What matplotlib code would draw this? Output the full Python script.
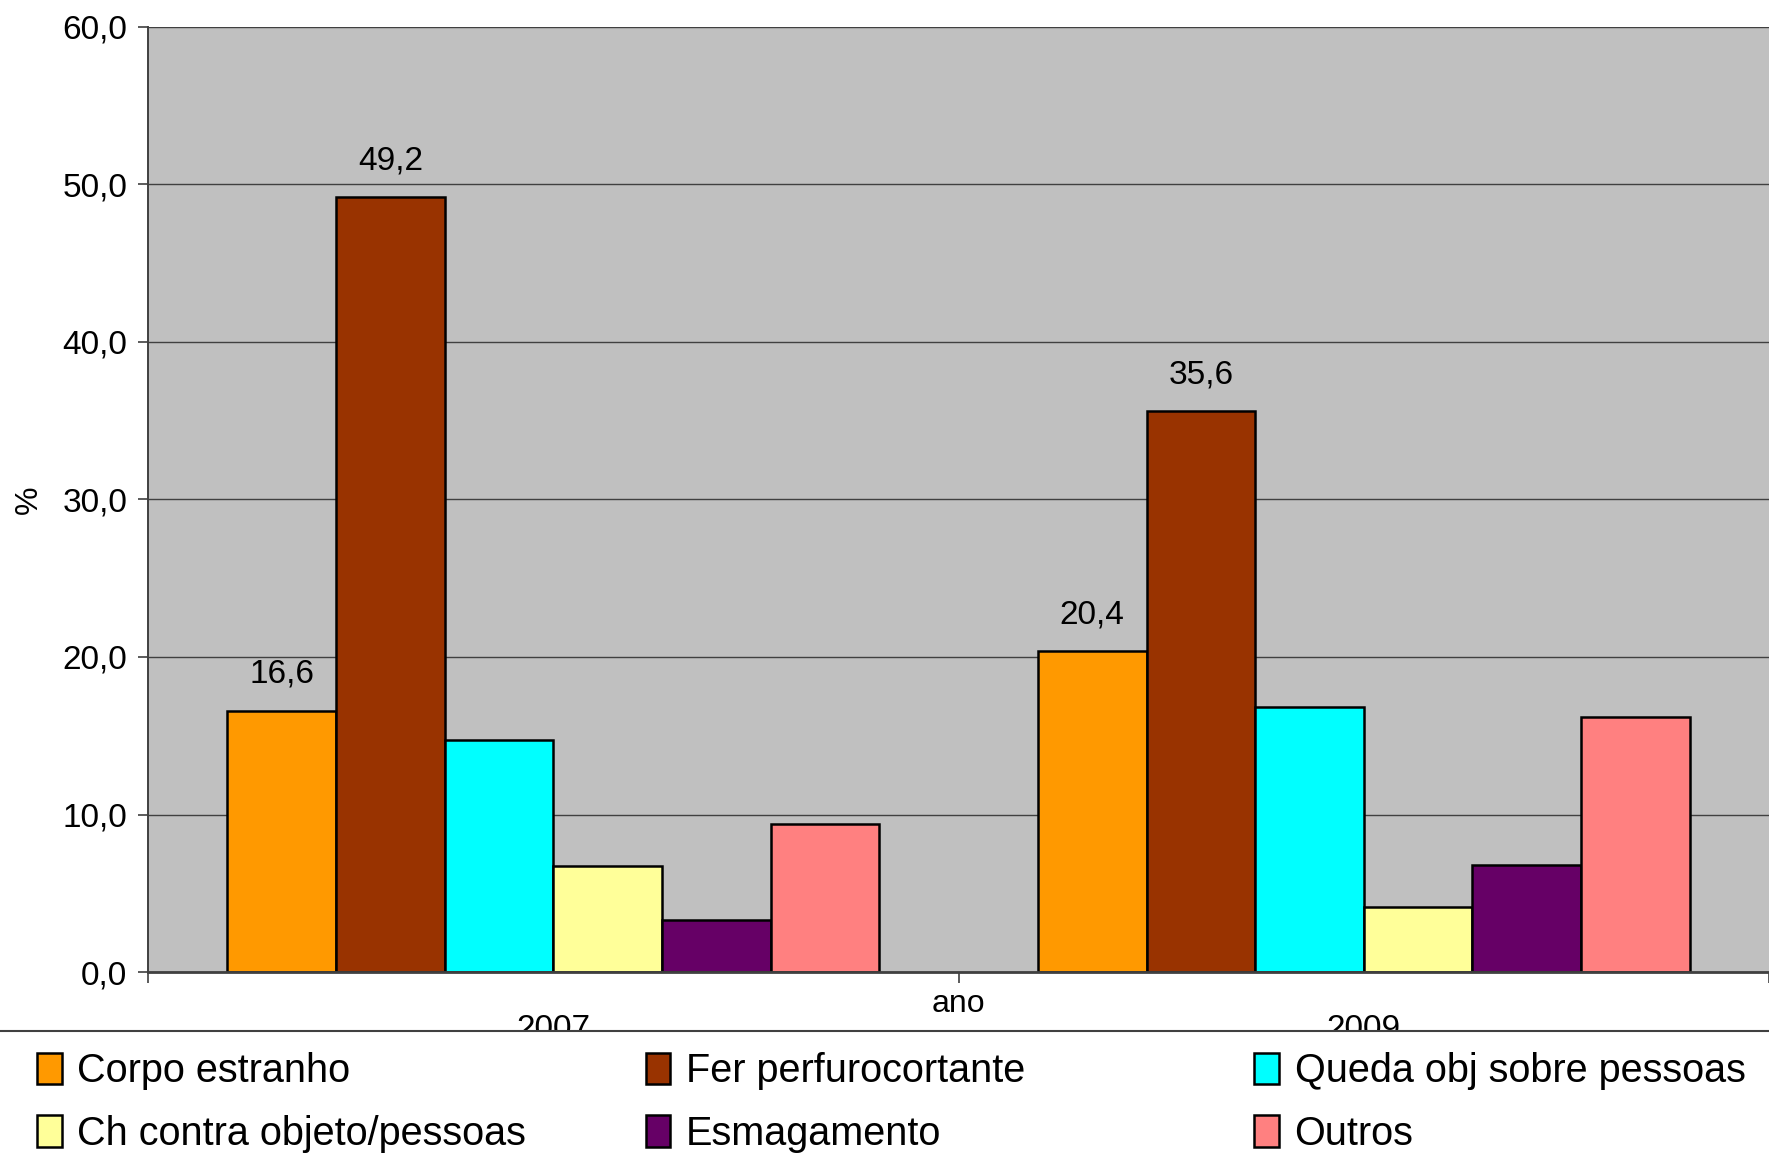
import numpy as np
import matplotlib.pyplot as plt
from matplotlib.patches import Rectangle

# --- data --------------------------------------------------------------
anos = ["2007", "2009"]
series = ["Corpo estranho", "Fer perfurocortante", "Queda obj sobre pessoas",
          "Ch contra objeto/pessoas", "Esmagamento", "Outros"]
corpo = [16.6, 20.4]
fer = [49.2, 35.6]
queda = [14.7, 16.8]
choque = [6.7, 4.1]
esmag = [3.3, 6.8]
outros = [9.4, 16.2]
valores = [corpo, fer, queda, choque, esmag, outros]
com_rotulo = [True, True, False, False, False, False]   # only first two carry labels

cores = ["#FF9900", "#993300", "#00FFFF", "#FFFF99", "#660066", "#FF8080"]

plt.rcParams["font.family"] = ["Liberation Sans", "DejaVu Sans"]

fig = plt.figure(figsize=(17.69, 11.62), dpi=100)
ax = fig.add_axes([0.0837, 0.1635, 0.9163, 0.8133])
ax.set_facecolor("#C0C0C0")

x = np.arange(len(anos))
w = 0.804 / len(series)
barras = []
for i, (vals, cor) in enumerate(zip(valores, cores)):
    pos = x - 0.402 + w * (i + 0.5)
    b = ax.bar(pos, vals, width=w, color=cor, edgecolor="black", linewidth=1.8,
               zorder=3, label=series[i])
    barras.append(b)
    if com_rotulo[i]:
        for px, v in zip(pos, vals):
            ax.annotate(f"{v:.1f}".replace(".", ","), (px, v), xytext=(0, 26),
                        textcoords="offset points", ha="center", va="center",
                        fontsize=24)

ax.set_xlim(-0.5, 1.5)
ax.set_ylim(0, 60)
ax.set_yticks(np.arange(0, 61, 10))
ax.set_yticklabels([f"{t:.1f}".replace(".", ",") for t in np.arange(0, 61, 10)])
ax.yaxis.grid(True, color="#404040", linewidth=1.0, zorder=1)
ax.set_axisbelow(True)

ax.set_xticks(x)
ax.set_xticklabels(anos)
ax.set_xticks([-0.5, 0.5, 1.5], minor=True)
ax.tick_params(axis="x", which="major", length=0, pad=30, labelsize=24)
ax.tick_params(axis="x", which="minor", length=8, width=1.2, color="#404040")
ax.tick_params(axis="y", length=7, width=1.2, color="#404040", pad=8, labelsize=24)

for s in ["top", "right"]:
    ax.spines[s].set_visible(False)
ax.spines["left"].set_color("#404040")
ax.spines["left"].set_linewidth(1.4)
ax.spines["bottom"].set_color("#404040")
ax.spines["bottom"].set_linewidth(2.0)
ax.spines["bottom"].set_zorder(4)

ax.set_xlabel("ano", fontsize=23)
ax.xaxis.set_label_coords(0.5, -0.018)
ax.set_ylabel("%", fontsize=23)
ax.yaxis.set_label_coords(-0.064, 0.5)

# white legend area covering the lower half of the year labels
fig.patches.append(Rectangle((-0.01, -0.01), 1.02, 0.1227, transform=fig.transFigure,
                             facecolor="white", edgecolor="#404040", linewidth=1.5,
                             zorder=5))

# legend: three columns placed like the original
leg_font = {"size": 28.5}
col_x = [0.012, 0.356, 0.700]
for c in range(3):
    hs = [barras[c], barras[c + 3]]
    ls = [series[c], series[c + 3]]
    lg = fig.legend(hs, ls, loc="upper left", bbox_to_anchor=(col_x[c], 0.108),
                    frameon=False, prop=leg_font, handlelength=0.62, handleheight=0.85,
                    handletextpad=0.4, labelspacing=0.62, borderaxespad=0.0)
    lg.set_zorder(6)

fig.savefig("out.png", dpi=100)
